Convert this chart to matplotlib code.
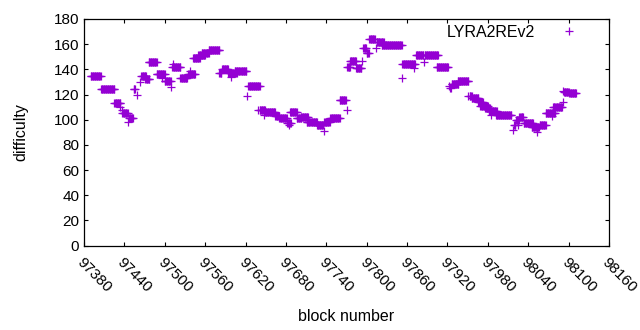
import numpy as np
import matplotlib
matplotlib.use("Agg")
import matplotlib.pyplot as plt

plt.rcParams['font.family'] = ['Liberation Sans', 'DejaVu Sans']

# ---- difficulty per block, read as runs of equal value (first block, last block, value)
run_first = [97390, 97405, 97425, 97434, 97436, 97437, 97445, 97447, 97454, 97458,
             97463, 97465, 97471, 97476, 97488, 97496, 97500, 97509, 97511, 97512,
             97523, 97535, 97537, 97542, 97550, 97555, 97565, 97581, 97585, 97594,
             97599, 97604, 97622, 97624, 97639, 97641, 97647, 97648, 97664, 97670,
             97682, 97685, 97686, 97696, 97702, 97711, 97726, 97736, 97737, 97746,
             97760, 97770, 97771, 97775, 97784, 97793, 97795, 97800, 97804, 97814,
             97815, 97822, 97852, 97853, 97871, 97873, 97885, 97886, 97904, 97922,
             97924, 97926, 97935, 97951, 97953, 97956, 97966, 97969, 97976, 97981,
             97985, 97992, 98017, 98019, 98022, 98025, 98027, 98033, 98045, 98053,
             98057, 98066, 98075, 98077, 98091, 98092, 98093, 98101]
run_last = [97405, 97425, 97434, 97434, 97436, 97445, 97445, 97453, 97456, 97458,
            97463, 97472, 97477, 97488, 97500, 97496, 97509, 97509, 97523, 97512,
            97533, 97545, 97537, 97552, 97560, 97565, 97581, 97584, 97594, 97607,
            97599, 97621, 97622, 97641, 97639, 97649, 97647, 97664, 97670, 97681,
            97687, 97685, 97696, 97703, 97713, 97726, 97735, 97736, 97745, 97760,
            97769, 97770, 97775, 97784, 97792, 97793, 97799, 97803, 97812, 97814,
            97825, 97852, 97852, 97872, 97871, 97884, 97885, 97906, 97921, 97922,
            97925, 97936, 97951, 97951, 97956, 97966, 97973, 97980, 97983, 97993,
            97985, 98015, 98017, 98021, 98026, 98025, 98032, 98047, 98056, 98053,
            98066, 98080, 98075, 98090, 98091, 98092, 98100, 98111]
run_value = [135, 124, 113, 110, 108, 105, 98, 101, 124, 120,
             130, 135, 132, 146, 136, 133, 131, 126, 142, 144,
             133, 136, 139, 149, 151, 153, 155, 137, 140, 137,
             134, 139, 119, 127, 108, 108, 104, 106, 103, 101,
             97, 96, 106, 101, 102, 98, 96, 91, 98.5, 101,
             116, 108, 142, 147, 141, 147, 157, 153, 164.5, 157,
             162, 159, 133, 144, 141, 151, 146, 151, 142, 127,
             125, 128.5, 131, 119, 119, 117, 114, 111, 109, 107,
             104, 103.5, 92, 96, 100, 96, 102, 97, 94, 90.5,
             96, 105.5, 103, 110, 114, 123, 122, 121]

block = np.concatenate([np.arange(a, b + 1) for a, b in zip(run_first, run_last)])
difficulty = np.concatenate([np.full(b - a + 1, v) for a, b, v in zip(run_first, run_last, run_value)])

xticks = np.arange(97380, 98161, 60)
yticks = np.arange(0, 181, 20)

# -------------------------- #

fig = plt.figure(figsize=(6.4, 3.3), dpi=100)
ax = fig.add_axes([84 / 640, 1 - 245.5 / 330, (609 - 84) / 640, (245.5 - 19) / 330])

ax.plot(block, difficulty, linestyle='none', marker='+', ms=6, mew=0.9,
        color='#9400d3', label='LYRA2REv2')

ax.set_xlim(97380, 98160)
ax.set_ylim(0, 180)
ax.set_xticks(xticks)
ax.set_yticks(yticks)
ax.set_xticklabels([str(t) for t in xticks], rotation=-45, ha='left', va='top',
                   rotation_mode='anchor')
ax.tick_params(direction='in', length=3, width=0.8, top=True, right=True,
               labelsize=11, colors='black')
ax.tick_params(axis='x', pad=7)
for sp in ax.spines.values():
    sp.set_linewidth(0.9)

ax.set_xlabel('block number', fontsize=11.5, labelpad=10)
ax.set_ylabel('difficulty', fontsize=11.5, labelpad=18)

ax.legend(loc='upper right', markerfirst=False, frameon=False, fontsize=11.5,
          handlelength=2.0, handletextpad=1.1, borderaxespad=0.3,
          bbox_to_anchor=(0.975, 1.025))

fig.savefig('out.png', dpi=100)
